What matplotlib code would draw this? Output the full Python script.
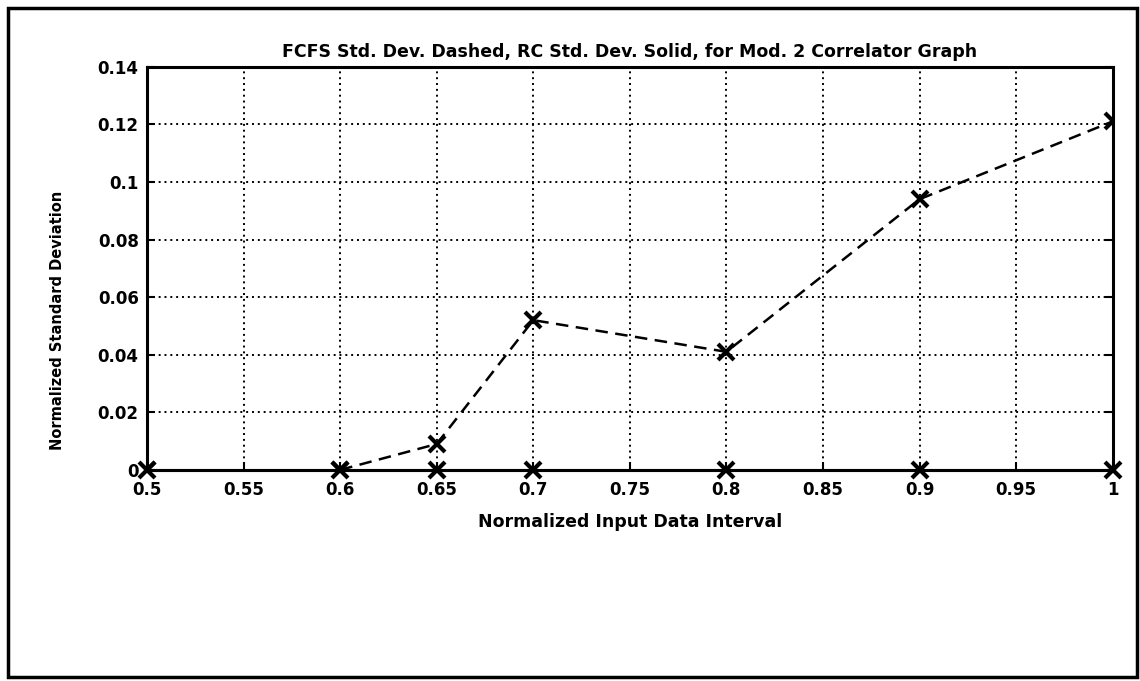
import matplotlib
matplotlib.use("Agg")
import matplotlib.pyplot as plt
from matplotlib.patches import Rectangle

# data
interval = [0.5, 0.6, 0.65, 0.7, 0.8, 0.9, 1.0]
fcfs_std = [0.0, 0.0, 0.009, 0.052, 0.041, 0.094, 0.121]
rc_std = [0.0, 0.0, 0.0, 0.0, 0.0, 0.0, 0.0]

x_ticks = [0.5, 0.55, 0.6, 0.65, 0.7, 0.75, 0.8, 0.85, 0.9, 0.95, 1.0]
x_tick_labels = ["0.5", "0.55", "0.6", "0.65", "0.7", "0.75", "0.8", "0.85", "0.9", "0.95", "1"]
y_ticks = [0, 0.02, 0.04, 0.06, 0.08, 0.1, 0.12, 0.14]
y_tick_labels = ["0", "0.02", "0.04", "0.06", "0.08", "0.1", "0.12", "0.14"]

plt.rcParams['font.family'] = ['DejaVu Sans']

fig = plt.figure(figsize=(11.4, 6.81), dpi=100)
ax = fig.add_axes([0.129, 0.310, 0.847, 0.592])

# rough scanned page frame
fig.patches.append(Rectangle((0.007, 0.006), 0.99, 0.982, transform=fig.transFigure,
                             fill=False, edgecolor="black", linewidth=2.5))

# FCFS dashed
ax.plot(interval[1:], fcfs_std[1:], linestyle=(0, (5, 3)), color="black", linewidth=1.8)
ax.plot(interval, fcfs_std, linestyle="none", marker="x", markersize=11,
        markeredgewidth=3, color="black")
# RC solid
ax.plot(interval, rc_std, linestyle="-", color="black", linewidth=2.2,
        marker="x", markersize=11, markeredgewidth=3, clip_on=False, zorder=5)

ax.set_xlim(0.5, 1.0)
ax.set_ylim(0, 0.14)
ax.set_xticks(x_ticks)
ax.set_xticklabels(x_tick_labels)
ax.set_yticks(y_ticks)
ax.set_yticklabels(y_tick_labels)
ax.grid(True, linestyle=(0, (1, 2)), color="black", linewidth=1.4)
ax.tick_params(direction="in", length=6, width=1.5, labelsize=12,
               right=True, top=False)
ax.tick_params(axis="x", pad=8)
ax.tick_params(axis="y", pad=6)
for lab in ax.get_xticklabels() + ax.get_yticklabels():
    lab.set_fontweight("bold")
for sp in ax.spines.values():
    sp.set_linewidth(2.2)

ax.set_title("FCFS Std. Dev. Dashed, RC Std. Dev. Solid, for Mod. 2 Correlator Graph",
             fontsize=12.5, fontweight="bold", pad=7)
ax.set_xlabel("Normalized Input Data Interval", fontsize=12.5, fontweight="bold", labelpad=10)
ax.set_ylabel("Normalized Standard Deviation", fontsize=10.5, fontweight="bold")
ax.yaxis.set_label_coords(-0.085, 0.37)

plt.savefig("out.png", dpi=100)
